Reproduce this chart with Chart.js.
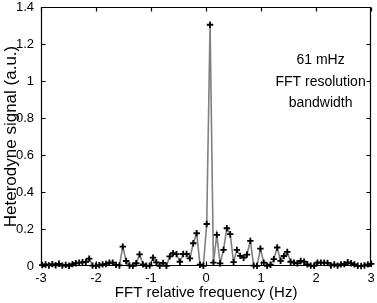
<!DOCTYPE html>
<html>
<head>
<meta charset="utf-8">
<script src="https://cdn.jsdelivr.net/npm/chart.js@4/dist/chart.umd.min.js"></script>
<style>
html,body{margin:0;padding:0;background:#fff;}
#wrap{width:377px;height:303px;position:relative;}
</style>
</head>
<body>
<div id="wrap"><canvas id="c" width="377" height="303"></canvas></div>
<script>
// FFT bin frequencies (Hz)
const freqs = [-2.978,-2.917,-2.856,-2.795,-2.734,-2.673,-2.612,-2.551,-2.490,-2.429,
  -2.368,-2.307,-2.246,-2.185,-2.124,-2.063,-2.002,-1.941,-1.880,-1.819,
  -1.758,-1.697,-1.636,-1.575,-1.514,-1.453,-1.392,-1.331,-1.270,-1.209,
  -1.148,-1.087,-1.026,-0.965,-0.904,-0.843,-0.782,-0.721,-0.660,-0.599,
  -0.538,-0.477,-0.416,-0.355,-0.294,-0.233,-0.172,-0.111,-0.050,0.011,
  0.072,0.133,0.194,0.255,0.316,0.377,0.438,0.499,0.560,0.621,
  0.682,0.743,0.804,0.865,0.926,0.987,1.048,1.109,1.170,1.231,
  1.292,1.353,1.414,1.475,1.536,1.597,1.658,1.719,1.780,1.841,
  1.902,1.963,2.024,2.085,2.146,2.207,2.268,2.329,2.390,2.451,
  2.512,2.573,2.634,2.695,2.756,2.817,2.878,2.939,3.000];
// Heterodyne signal (a.u.)
const signal = [0.005,0.008,0.003,0.010,0.004,0.012,0.002,0.006,0.001,0.010,
  0.015,0.018,0.020,0.022,0.040,0.002,0.001,0.004,0.009,0.011,
  0.018,0.018,0.006,0.003,0.105,0.027,0.003,0.001,0.015,0.063,
  0.009,0.001,0.002,0.045,0.020,0.001,0.017,0.001,0.052,0.069,
  0.064,0.023,0.065,0.065,0.041,0.123,0.177,0.007,0.001,0.227,
  1.304,0.018,0.168,0.014,0.087,0.204,0.172,0.021,0.087,0.055,
  0.045,0.062,0.136,0.002,0.001,0.094,0.018,0.001,0.007,0.037,
  0.100,0.028,0.054,0.076,0.023,0.018,0.015,0.027,0.023,0.009,
  0.002,0.001,0.018,0.018,0.018,0.017,0.003,0.009,0.002,0.009,
  0.010,0.020,0.015,0.009,0.001,0.000,0.003,0.009,0.012];
const xTicks = [-3,-2,-1,0,1,2,3];
const yTicks = [0,0.2,0.4,0.6,0.8,1,1.2,1.4];
const annotationLines = ["61 mHz","FFT resolution","bandwidth"];
const annotationAt = {x: 2.08, y: [1.112, 0.993, 0.879]};
const xTitle = "FFT relative frequency (Hz)";
const yTitle = "Heterodyne signal (a.u.)";

const FONT = "'Liberation Sans', Arial, Helvetica, sans-serif";

const framePlugin = {
  id: 'frame',
  afterDatasetsDraw(chart) {
    const ctx = chart.ctx, a = chart.chartArea;
    const xs = chart.scales.x, ys = chart.scales.y;
    ctx.save();
    ctx.strokeStyle = '#000';
    ctx.lineWidth = 1.2;
    const L = Math.round(a.left) + 0.5, R = Math.round(a.right) - 0.5;
    const T = Math.round(a.top) + 0.5, B = Math.round(a.bottom) - 0.5;
    ctx.beginPath();
    ctx.rect(L, T, R - L, B - T);
    ctx.stroke();
    const tl = 4;
    ctx.beginPath();
    xTicks.forEach(v => {
      const px = Math.round(xs.getPixelForValue(v)) + 0.5;
      ctx.moveTo(px, B); ctx.lineTo(px, B - tl);
      ctx.moveTo(px, T); ctx.lineTo(px, T + tl);
    });
    yTicks.forEach(v => {
      const py = Math.round(ys.getPixelForValue(v)) + 0.5;
      ctx.moveTo(L, py); ctx.lineTo(L + tl, py);
      ctx.moveTo(R, py); ctx.lineTo(R - tl, py);
    });
    ctx.stroke();
    // annotation text
    ctx.fillStyle = '#000';
    ctx.font = "14px " + FONT;
    ctx.textAlign = 'center';
    ctx.textBaseline = 'middle';
    const ax = xs.getPixelForValue(annotationAt.x);
    annotationLines.forEach((t, i) => {
      ctx.fillText(t, ax, ys.getPixelForValue(annotationAt.y[i]));
    });
    ctx.restore();
  }
};

new Chart(document.getElementById('c'), {
  type: 'line',
  data: {
    datasets: [{
      data: freqs.map((f, i) => ({x: f, y: signal[i]})),
      borderColor: '#808080',
      borderWidth: 1.6,
      tension: 0,
      pointStyle: 'cross',
      pointRadius: 3.2,
      pointBorderWidth: 1.8,
      pointBorderColor: '#000',
      pointBackgroundColor: '#000',
      clip: false
    }]
  },
  options: {
    responsive: false,
    animation: false,
    events: [],
    layout: {padding: {top: 7, right: 4, left: 0, bottom: 0}},
    plugins: {legend: {display: false}, tooltip: {enabled: false}},
    scales: {
      x: {
        type: 'linear', min: -3, max: 3,
        afterBuildTicks: s => { s.ticks = xTicks.map(v => ({value: v})); },
        ticks: {color: '#000', font: {family: FONT, size: 13}, padding: 5, maxRotation: 0,
          callback: v => String(v)},
        grid: {display: false, drawTicks: false},
        border: {display: false},
        title: {display: true, text: xTitle, color: '#000', font: {family: FONT, size: 15}, padding: {top: 0, bottom: 1}},
        afterFit: s => { s.height = 37; s.paddingLeft = 0; s.paddingRight = 0; }
      },
      y: {
        type: 'linear', min: 0, max: 1.4,
        afterBuildTicks: s => { s.ticks = yTicks.map(v => ({value: v})); },
        ticks: {color: '#000', font: {family: FONT, size: 13}, padding: 7,
          callback: v => String(Math.round(v * 10) / 10)},
        grid: {display: false, drawTicks: false},
        border: {display: false},
        title: {display: true, text: yTitle, color: '#000', font: {family: FONT, size: 17}, padding: {top: 1, bottom: 0}},
        afterFit: s => { s.width = 41; s.paddingTop = 0; s.paddingBottom = 0; }
      }
    }
  },
  plugins: [framePlugin]
});
</script>
</body>
</html>
